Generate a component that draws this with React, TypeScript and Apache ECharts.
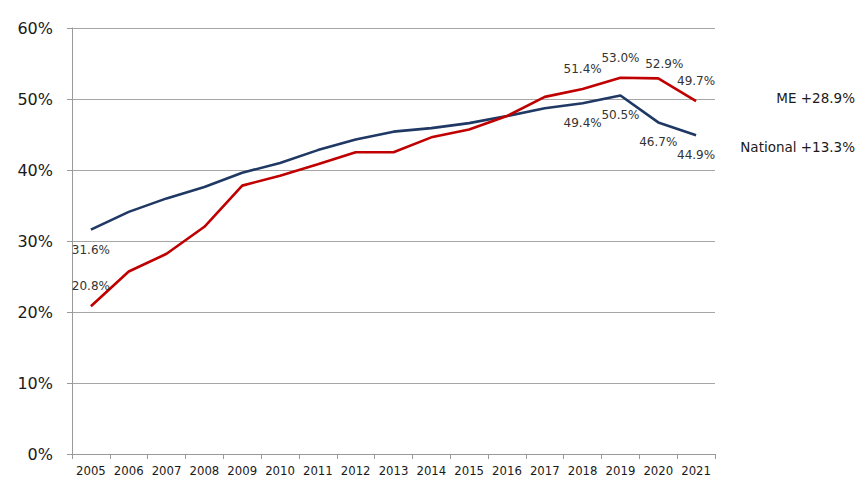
import React, { useEffect, useRef } from "react";
import * as echarts from "echarts";

const years = ["2005","2006","2007","2008","2009","2010","2011","2012","2013","2014","2015","2016","2017","2018","2019","2020","2021"];
const meValues = [20.8, 25.7, 28.2, 32.0, 37.8, 39.2, 40.8, 42.5, 42.5, 44.6, 45.7, 47.6, 50.3, 51.4, 53.0, 52.9, 49.7];
const nationalValues = [31.6, 34.1, 36.0, 37.6, 39.6, 41.0, 42.8, 44.3, 45.4, 45.9, 46.6, 47.6, 48.7, 49.4, 50.5, 46.7, 44.9];
const meLabelled = [0, 13, 14, 15, 16];
const nationalLabelled = [0, 13, 14, 15, 16];
const yTicks = [0, 10, 20, 30, 40, 50, 60];
const sideNotes = ["ME +28.9%", "National +13.3%"];

const labelFont = "'DejaVu Sans', Verdana, sans-serif";

export default function App() {
  const ref = useRef<HTMLDivElement>(null);
  useEffect(() => {
    if (!ref.current) return;
    const chart = echarts.init(ref.current, undefined, { renderer: "svg" });
    const meShift: Record<number, { dx: number; dy: number }> = { 15: { dx: 6, dy: 6 } };
    const mkData = (vals: number[], labelled: number[], pos: string) =>
      vals.map((v, i) => ({
        value: v,
        label: {
          show: labelled.includes(i),
          position: pos,
          distance: 14,
          opacity: 1,
          formatter: Number(v).toFixed(1) + "%",
          fontFamily: labelFont,
          fontSize: 12,
          color: "#333333",
        },
      }));
    chart.setOption({
      animation: false,
      backgroundColor: "#ffffff",
      grid: { left: 72, right: 152, top: 28, bottom: 33 },
      xAxis: {
        type: "category",
        data: years,
        boundaryGap: true,
        axisLine: { show: true, lineStyle: { color: "#9a9a9a", width: 1 } },
        axisTick: { show: true, length: 5, alignWithLabel: false, lineStyle: { color: "#9a9a9a" } },
        axisLabel: {
          interval: 0,
          margin: 10,
          fontFamily: "'Liberation Sans Narrow', 'Arial Narrow', 'DejaVu Sans Condensed', sans-serif",
          fontSize: 13,
          color: "#1a1a1a",
        },
        splitLine: { show: false },
      },
      yAxis: {
        type: "value",
        min: yTicks[0],
        max: yTicks[yTicks.length - 1],
        interval: 10,
        axisLine: { show: true, lineStyle: { color: "#9a9a9a", width: 1 } },
        axisTick: { show: true, length: 5, lineStyle: { color: "#9a9a9a" } },
        axisLabel: {
          margin: 19,
          fontFamily: labelFont,
          fontSize: 16,
          color: "#1a1a1a",
          formatter: (v: number) => v + "%",
        },
        splitLine: { show: true, lineStyle: { color: "#a6a6a6", width: 1 } },
      },
      series: [
        {
          name: "National",
          type: "line",
          data: mkData(nationalValues, nationalLabelled, "bottom"),
          symbol: "circle",
          symbolSize: 0,
          showSymbol: true,
          showAllSymbol: true,
          label: { show: false },
          labelLayout: { hideOverlap: false },
          lineStyle: { color: "#1f3864", width: 2.6 },
          itemStyle: { color: "#1f3864" },
          z: 2,
        },
        {
          name: "ME",
          type: "line",
          data: mkData(meValues, meLabelled, "top"),
          symbol: "circle",
          symbolSize: 0,
          showSymbol: true,
          showAllSymbol: true,
          label: { show: false },
          labelLayout: (p: any) => {
            const s = meShift[p.dataIndex];
            return s ? { dx: s.dx, dy: s.dy, hideOverlap: false } : { hideOverlap: false };
          },
          lineStyle: { color: "#c00000", width: 2.6 },
          itemStyle: { color: "#c00000" },
          z: 3,
        },
      ],
      graphic: [
        {
          type: "text",
          right: 12,
          top: 91,
          style: { text: sideNotes[0], font: "13.5px 'DejaVu Sans', Verdana, sans-serif", fill: "#1a1a1a" },
        },
        {
          type: "text",
          right: 12,
          top: 140,
          style: { text: sideNotes[1], font: "13.5px 'DejaVu Sans', Verdana, sans-serif", fill: "#1a1a1a" },
        },
      ],
    });
    return () => chart.dispose();
  }, []);
  return (
    <div
      ref={ref}
      style={{ position: "absolute", left: 0, top: 0, width: 867, height: 487, background: "#fff" }}
    />
  );
}
